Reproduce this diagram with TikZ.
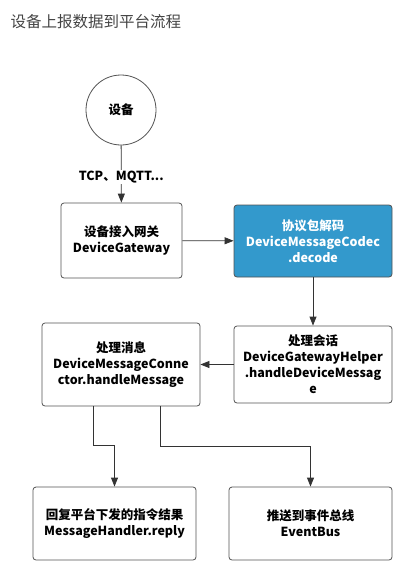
\documentclass[tikz,border=0pt]{standalone}
\usepackage{fontspec}
\setmainfont{Noto Sans CJK SC}
\usetikzlibrary{arrows.meta}
\definecolor{codecblue}{HTML}{3399CC}
\definecolor{linegray}{HTML}{333333}
\definecolor{titlegray}{HTML}{444444}
\begin{document}
\begin{tikzpicture}[x=1pt,y=-1pt,box/.style={rectangle, draw=linegray!85, rounded corners=3pt, align=center, font=\bfseries\fontsize{12.5}{16}\selectfont, line width=0.8pt, inner sep=2pt}]
    \tikzset{device/.style={circle, draw=linegray!85, line width=0.8pt, minimum size=70pt, font=\bfseries\fontsize{12.5}{16}\selectfont}}
    \tikzset{flow/.style={draw=linegray, line width=0.8pt, -{Triangle[length=9pt, width=7pt]}}}
    \useasboundingbox (0,0) rectangle (415,573);
    % title
    \node[anchor=west, text=titlegray, font=\fontsize{15.5}{18}\selectfont] (title) at (7,22) {设备上报数据到平台流程};
    % nodes
    \node[device] (dev) at (121,110) {设备};
    \node[box, minimum width=121pt, minimum height=75pt] (gw) at (121.5,240.5) {设备接入网关\\DeviceGateway};
    \node[box, fill=codecblue, text=white, minimum width=158pt, minimum height=72pt] (codec) at (313,241) {协议包解码\\DeviceMessageCodec\\.decode};
    \node[box, minimum width=158pt, minimum height=77pt] (helper) at (313,364.5) {处理会话\\DeviceGatewayHelper\\.handleDeviceMessag\\e};
    \node[box, minimum width=158pt, minimum height=83pt] (conn) at (121,364.5) {处理消息\\DeviceMessageConne\\ctor.handleMessage};
    \node[box, minimum width=163pt, minimum height=73pt] (reply) at (114.5,523.5) {回复平台下发的指令结果\\MessageHandler.reply};
    \node[box, minimum width=163pt, minimum height=73pt] (bus) at (310.5,523.5) {推送到事件总线\\EventBus};
    % connectors
    \draw[flow] (dev) -- (gw) node[midway, fill=white, inner sep=1pt, font=\bfseries\fontsize{12.5}{16}\selectfont, yshift=-3pt] {TCP、MQTT...};
    \draw[flow] (gw) -- (codec);
    \draw[flow] (codec) -- (helper);
    \draw[flow] (helper) -- (conn);
    \draw[flow] ([xshift=-28pt]conn.south) -- ++(0,39) -| (reply.north);
    \draw[flow] ([xshift=39pt]conn.south) -- ++(0,40) -| (bus.north);
\end{tikzpicture}
\end{document}
